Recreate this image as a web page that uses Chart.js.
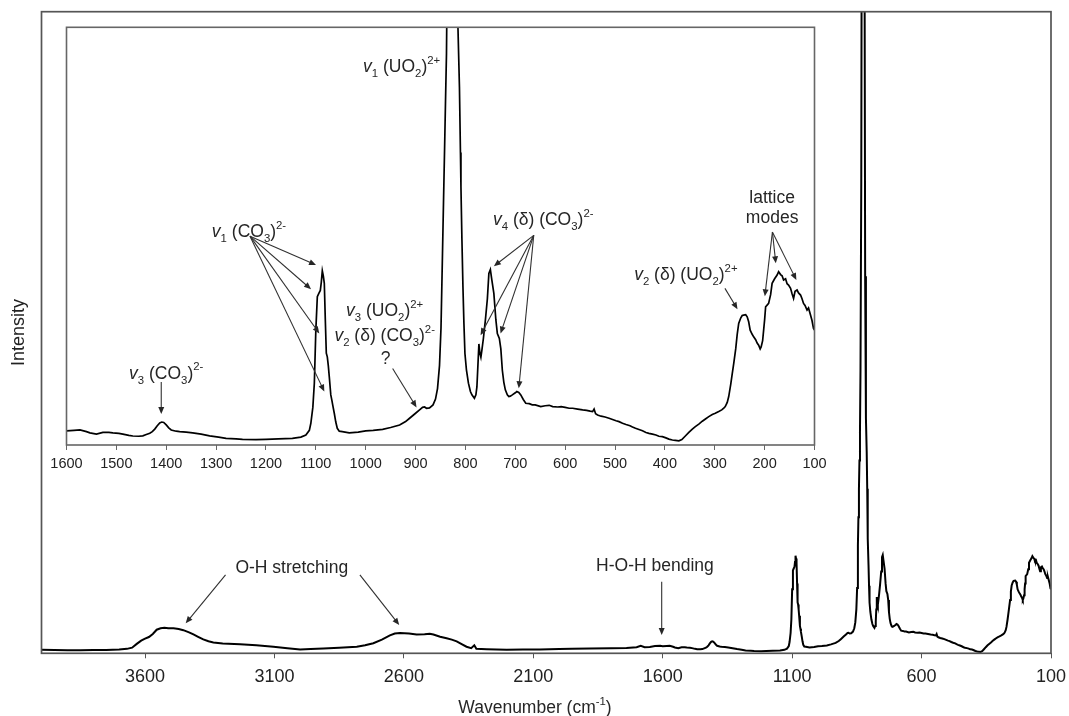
<!DOCTYPE html>
<html><head><meta charset="utf-8">
<script src="https://cdn.jsdelivr.net/npm/chart.js@4/dist/chart.umd.min.js"></script>
<style>
html,body{margin:0;padding:0;background:#fff;}
#wrap{position:relative;width:1069px;height:716px;overflow:hidden;background:#fff;}
#main{position:absolute;left:0;top:0;}
#inset{position:absolute;left:50px;top:10px;}
</style></head><body>
<div id="wrap"><canvas id="main" width="1069" height="716"></canvas><canvas id="inset" width="780" height="470"></canvas></div>
<script>
// ---- data (Raman shift in cm-1, intensity in arbitrary units) ----
const wavenumber = [
4000,3950,3900,3850,3800,3750,3700,3670,3650,3632,3615,3600,3585,3570,3555,3540,3525,3510,3490,3470,3452,3430,3413,3395,3375,3355,3336,3300,3233,3170,3104,3050,3001,2960,2911,2850,2782,2750,2718,2685,2654,2635,2615,2580,2551,2520,2500,2486,2460,2435,2415,2396,2375,2358,2340,2328,2320,2280,2203,2140,2075,2000,1950,1881,1800,1740,1701,1685,1670,1650,1630,1610,
1600,1585,1573,1560,1553,1540,1527,1515,1507,1495,1487,1475,1467,1455,1447,1440,1433,1428,1423,1418,1413,1409,1405,1400,1395,1390,1380,1373,1360,1347,1330,1313,1295,1280,1260,1247,1220,1200,1175,1147,1130,1120,1113,1110,1106,1103,1100,1097,1094,1091,1089,1087,1085,1083,1081,1079,1077,1075,1073,1070,1068,1066,1063,1060,1057,1053,1047,1033,1015,1000,985,966,950,932,920,912,900,892,886,882,878,872,865,860,856,852,849,846,844,842,840,838,836,833,830,826,822,818,815,812,810,809,807,805,803,801,798,794,790,787,782,779,777,775,773,771,769,767,764,760,756,753,750,747,743,739,736,732,729,726,723,720,716,713,710,706,700,697,693,689,684,679,672,666,660,649,640,632,625,615,608,600,592,585,575,565,557,550,545,542,539,535,528,520,512,505,498,492,485,478,470,465,459,452,445,438,432,425,418,412,405,398,392,385,379,372,366,359,352,345,339,332,325,318,312,305,299,292,286,282,279,275,272,268,265,262,258,255,252,248,245,242,238,235,232,229,225,222,218,215,212,209,207,204,202,200,198,195,192,188,185,180,175,172,168,165,162,158,155,152,148,145,142,139,135,132,128,125,122,119,115,112,108,105,102,100
];
const intensity = [
1.9,1.8,1.7,1.7,1.8,1.8,2.0,2.3,2.8,4.4,5.8,6.6,7.3,8.6,10.4,11.0,11.2,11.0,11.0,10.7,10.2,9.3,8.4,7.4,6.3,5.5,5.0,4.6,4.3,3.8,3.2,2.6,2.0,2.2,2.5,2.8,3.2,3.8,4.7,6.2,8.0,8.8,9.0,8.8,8.4,8.5,8.7,8.4,7.4,6.8,6.2,5.5,4.2,3.2,2.6,3.8,2.3,2.1,1.9,2.0,2.0,2.2,2.3,2.5,2.6,2.7,3.0,3.6,3.0,3.1,3.5,3.6,
3.4,3.5,3.6,3.2,2.9,2.6,3.0,3.0,2.9,2.8,2.6,2.3,2.15,2.1,2.2,2.5,2.8,3.2,3.8,4.6,5.3,5.5,5.4,4.8,4.1,3.6,3.3,3.2,3.1,2.9,2.6,2.2,1.9,1.6,1.45,1.35,1.3,1.35,1.45,1.6,1.9,2.4,3.5,5.2,9,14.8,27.5,35.5,36.3,37.0,39,41.7,40.5,38.7,30,22,21.1,19,16.3,12,10.8,9.5,7.6,5.5,4.0,3.3,3.2,2.9,3.1,3.4,3.5,3.75,4.2,4.8,5.6,6.4,7.6,8.4,9.0,9.1,8.8,8.9,9.6,11.0,13.5,19,28,45.9,58,69.8,82,93.7,120,200,400,700,400,160,100,85.7,70,61.8,49,37.9,29,21.9,18,14.8,12.8,12.0,11.2,12,13.9,19,24.2,22,21,22.7,25.5,29.9,35,41.1,42,39.5,36.3,30,26.7,25.5,23,17.9,15,13.2,12.0,11.6,11.7,12.0,12.5,12.8,12.6,12.0,10.9,10.0,9.9,9.6,9.6,9.2,9.4,9.5,9.2,9.1,9.2,9.0,8.8,8.8,8.6,8.4,8.3,8.1,8.0,8.6,7.5,7.2,6.9,6.7,6.4,6.1,5.8,5.6,5.2,4.9,4.6,4.3,4.0,3.7,3.4,3.0,2.8,2.6,2.4,2.1,2.0,1.7,1.4,1.2,1.1,1.0,1.3,2.15,3.0,3.8,4.4,5.0,5.7,6.3,6.8,7.3,7.6,8.0,8.4,8.8,9.2,10.2,11.6,14.5,17,19.5,23,26.5,29.1,30.4,31,31.1,31.2,30.7,29.5,27.5,26.5,25.9,25.2,24.4,23.9,23.0,23.5,25,27.5,30,33.1,33.5,33.9,36,38.7,39.8,40.7,41.5,40.8,40.5,39.5,39.8,38.6,38.3,37.5,36.2,35.1,36.8,37.1,36.4,35.9,35.0,33.9,33.4,32.3,32.8,31.1,29.8,27.9,27.5
];
const mainTicks = [100,600,1100,1600,2100,2600,3100,3600];
const insetTicks = [100,200,300,400,500,600,700,800,900,1000,1100,1200,1300,1400,1500,1600];

// annotation texts (markup: *italic*, _{sub}, ^{sup}) anchored in data coordinates
const insetLabels = [
  {text:'*v*_{1} (UO_{2})^{2+}', x:928, y:90.7},
  {text:'*v*_{1} (CO_{3})^{2-}', x:1234, y:51.2},
  {text:'*v*_{3} (CO_{3})^{2-}', x:1400, y:17.3},
  {text:'*v*_{3} (UO_{2})^{2+}', x:962, y:32.3},
  {text:'*v*_{2} (δ) (CO_{3})^{2-}', x:962, y:26.3},
  {text:'?', x:960, y:20.9},
  {text:'*v*_{4} (δ) (CO_{3})^{2-}', x:644, y:54.1},
  {text:'*v*_{2} (δ) (UO_{2})^{2+}', x:358, y:40.9},
  {text:'lattice', x:185, y:59.5},
  {text:'modes', x:185, y:54.7}
];
const insetArrows = [
  [1232,50.0,1099.6,43.1],[1232,50.0,1109.6,37.3],[1232,50.0,1093,26.7],[1232,50.0,1083,12.8],
  [1410,15.1,1410,7.4],
  [946,18.3,898,9.0],
  [663,50.2,743,42.8],[663,50.2,769.6,26.3],[663,50.2,729.6,26.7],[663,50.2,693,13.6],
  [279.6,37.5,254.4,32.5],
  [184.4,51.0,199.6,35.6],[184.4,51.0,177.6,43.5],[184.4,51.0,136.4,39.5]
];
const mainLabels = [
  {text:'O-H stretching', x:3033, y:37.1},
  {text:'H-O-H bending', x:1630, y:37.8}
];
const mainArrows = [
  [3289,33.6,3443,13.1],[2770,33.6,2618,12.4],[1604,30.7,1604,8.2]
];

const FONT = "'Liberation Sans', Arial, Helvetica, sans-serif";
const points = wavenumber.map((w,i)=>({x:w, y:intensity[i]}));

function parseRich(str){
  const segs=[]; let buf=''; let i=0;
  const push=(t,k)=>{ if(t) segs.push({t,k}); };
  while(i<str.length){
    const c=str[i];
    if((c==='_'||c==='^') && str[i+1]==='{'){ push(buf,'n'); buf=''; const e=str.indexOf('}',i); push(str.slice(i+2,e), c==='_'?'sub':'sup'); i=e+1; }
    else if(c==='*'){ push(buf,'n'); buf=''; const e=str.indexOf('*',i+1); push(str.slice(i+1,e),'it'); i=e+1; }
    else { buf+=c; i++; }
  }
  push(buf,'n'); return segs;
}
function fontFor(k,size){
  if(k==='it') return 'italic '+size+'px '+FONT;
  if(k==='sub'||k==='sup') return (size*0.65).toFixed(2)+'px '+FONT;
  return size+'px '+FONT;
}
function drawRich(ctx, str, cx, cy, size){
  const segs=parseRich(str);
  let w=0;
  const parts=segs.map(s=>{ const f=fontFor(s.k,size); ctx.font=f; const m=ctx.measureText(s.t).width; w+=m; return {s,f,m}; });
  let x=cx-w/2;
  const base=cy+size*0.36;
  ctx.textBaseline='alphabetic'; ctx.textAlign='left';
  for(const p of parts){
    ctx.font=p.f;
    let dy=0;
    if(p.s.k==='sub') dy=size*0.26;
    if(p.s.k==='sup') dy=-size*0.5;
    ctx.fillText(p.s.t, x, base+dy);
    x+=p.m;
  }
}
function drawArrow(ctx,x1,y1,x2,y2){
  const a=Math.atan2(y2-y1,x2-x1), L=7, W=3;
  ctx.beginPath(); ctx.moveTo(x1,y1); ctx.lineTo(x2-Math.cos(a)*L*0.7, y2-Math.sin(a)*L*0.7); ctx.stroke();
  ctx.beginPath(); ctx.moveTo(x2,y2);
  ctx.lineTo(x2-L*Math.cos(a)+W*Math.sin(a), y2-L*Math.sin(a)-W*Math.cos(a));
  ctx.lineTo(x2-L*Math.cos(a)-W*Math.sin(a), y2-L*Math.sin(a)+W*Math.cos(a));
  ctx.closePath(); ctx.fill();
}

const framePlugin = {
  id:'frame',
  afterDraw(chart, args, opts){
    const {ctx, chartArea:a} = chart;
    ctx.save();
    ctx.strokeStyle=opts.color||'#555'; ctx.lineWidth=opts.width||1.6;
    ctx.strokeRect(a.left, a.top, a.right-a.left, a.bottom-a.top);
    ctx.restore();
  }
};
const notesPlugin = {
  id:'notes',
  afterDatasetsDraw(chart, args, opts){
    const ctx=chart.ctx, sx=chart.scales.x, sy=chart.scales.y;
    ctx.save();
    ctx.fillStyle='#262626'; ctx.strokeStyle='#303030'; ctx.lineWidth=1.1;
    (opts.arrows||[]).forEach(r=>{
      drawArrow(ctx, sx.getPixelForValue(r[0]), sy.getPixelForValue(r[1]), sx.getPixelForValue(r[2]), sy.getPixelForValue(r[3]));
    });
    (opts.labels||[]).forEach(l=>{
      drawRich(ctx, l.text, sx.getPixelForValue(l.x), sy.getPixelForValue(l.y), opts.size||17.5);
    });
    if(opts.xTitle){
      drawRich(ctx, opts.xTitle.text, opts.xTitle.cx, opts.xTitle.cy, opts.xTitle.size);
    }
    ctx.restore();
  }
};

new Chart(document.getElementById('main'), {
  type:'scatter',
  data:{datasets:[{data:points, showLine:true, borderColor:'#000', borderWidth:2, pointRadius:0, tension:0, fill:false}]},
  options:{
    responsive:false, animation:false, events:[],
    layout:{padding:{left:0,right:18,top:11.7,bottom:0}},
    plugins:{
      legend:{display:false}, tooltip:{enabled:false},
      frame:{color:'#555', width:1.7},
      notes:{labels:mainLabels, arrows:mainArrows, size:17.5,
             xTitle:{text:'Wavenumber (cm^{-1})', cx:535, cy:707, size:17.5}}
    },
    scales:{
      x:{type:'linear', reverse:true, min:100, max:4000, position:'bottom',
         afterFit:s=>{s.height=62.7;},
         afterBuildTicks:s=>{s.ticks=mainTicks.map(v=>({value:v}));},
         grid:{display:true, drawOnChartArea:false, drawTicks:true, tickLength:5, color:'#555', lineWidth:1},
         border:{display:false},
         ticks:{font:{family:FONT,size:18}, color:'#222', padding:8, maxRotation:0, autoSkip:false, callback:v=>String(v)}},
      y:{type:'linear', min:0.42, max:271.9, position:'left',
         afterFit:s=>{s.width=41.5;},
         grid:{display:false}, border:{display:false}, ticks:{display:false},
         title:{display:true, text:'Intensity', font:{family:FONT,size:18}, color:'#222', padding:{top:8,bottom:0}}}
    }
  },
  plugins:[framePlugin, notesPlugin]
});

new Chart(document.getElementById('inset'), {
  type:'scatter',
  data:{datasets:[{data:points, showLine:true, borderColor:'#000', borderWidth:1.7, pointRadius:0, tension:0, fill:false}]},
  options:{
    responsive:false, animation:false, events:[],
    layout:{padding:{left:16.5,right:15.5,top:17.3,bottom:0}},
    plugins:{
      legend:{display:false}, tooltip:{enabled:false},
      frame:{color:'#666', width:1.6},
      notes:{labels:insetLabels, arrows:insetArrows, size:17.5}
    },
    scales:{
      x:{type:'linear', reverse:true, min:100, max:1600, position:'bottom',
         afterFit:s=>{s.height=35;},
         afterBuildTicks:s=>{s.ticks=insetTicks.map(v=>({value:v}));},
         grid:{display:true, drawOnChartArea:false, drawTicks:true, tickLength:5, color:'#666', lineWidth:1},
         border:{display:false},
         ticks:{font:{family:FONT,size:14.5}, color:'#222', padding:5, maxRotation:0, autoSkip:false, callback:v=>String(v)}},
      y:{type:'linear', min:0, max:100, display:false}
    }
  },
  plugins:[framePlugin, notesPlugin]
});
</script>
</body></html>
